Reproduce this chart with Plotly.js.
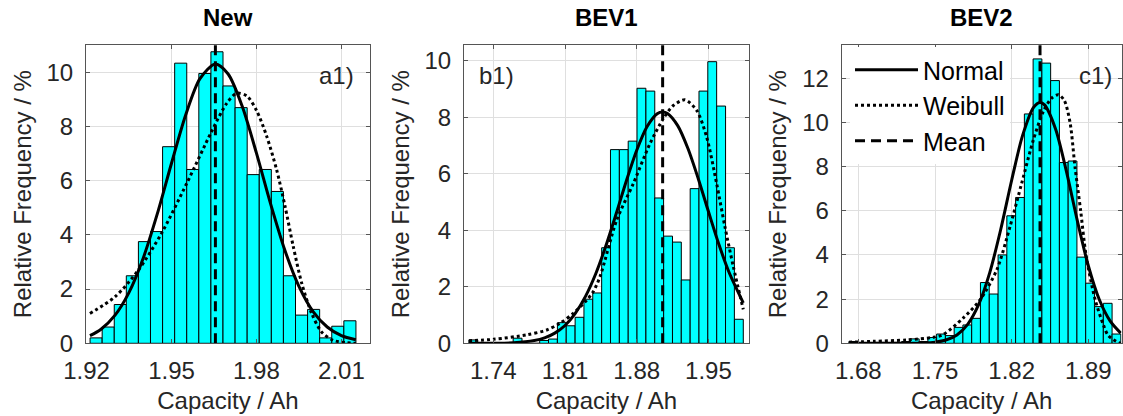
<!DOCTYPE html>
<html>
<head>
<meta charset="utf-8">
<script src="https://cdn.plot.ly/plotly-3.0.1.min.js"></script>
<style>
  html, body { margin: 0; padding: 0; background: #fff; }
  #chart { width: 1123px; height: 416px; }
</style>
</head>
<body>
<div id="chart"></div>
<script>
// ---------- data ----------
const panelTitles = ['New', 'BEV1', 'BEV2'];
const panelTags = ['a1)', 'b1)', 'c1)'];
const seriesNames = ['Normal', 'Weibull', 'Mean'];

// Panel a1: New
const binsNew = [1.92337, 1.92764, 1.93191, 1.93617, 1.94044, 1.94471, 1.94898, 1.95325, 1.95751, 1.96178, 1.96605,
                 1.97032, 1.97459, 1.97885, 1.98312, 1.98739, 1.99166, 1.99593, 2.00019, 2.00446, 2.00873, 2.01300];
const freqNew = [0.2, 0.6, 1.43, 2.49, 3.75, 4.12, 7.25, 10.33, 6.41, 9.95, 10.75,
                 9.49, 8.69, 6.22, 6.41, 5.6, 2.49, 1.04, 1.25, 0.2, 0.63, 0.83];
const binWidthNew = 0.004268;
const normXNew = [1.9212, 1.925, 1.93, 1.935, 1.94, 1.945, 1.95, 1.955, 1.96, 1.9655, 1.97, 1.975, 1.98, 1.985, 1.99, 1.995, 2.0, 2.005, 2.01, 2.0151];
const normYNew = [0.28, 0.51, 1.03, 1.88, 3.14, 4.78, 6.64, 8.42, 9.75, 10.3, 9.93, 8.73, 7.01, 5.14, 3.44, 2.10, 1.17, 0.60, 0.28, 0.13];
const weibXNew = [1.9212, 1.9301, 1.9383, 1.9465, 1.9554, 1.9641, 1.9695, 1.9730, 1.9766, 1.9801, 1.9836, 1.9871, 1.9901, 1.9930, 1.9960, 1.9995, 2.0030, 2.0071, 2.0118, 2.0151];
const weibYNew = [1.10, 1.72, 2.70, 4.06, 5.90, 7.80, 8.85, 9.22, 9.12, 8.57, 7.64, 6.41, 5.05, 3.57, 2.21, 1.10, 0.42, 0.11, 0.02, 0.0];
const meanNew = 1.9655;

// Panel b1: BEV1
const binsBEV1 = [1.7205, 1.7291, 1.7378, 1.7464, 1.7550, 1.7637, 1.7723, 1.7810, 1.7896, 1.7982, 1.8069,
                  1.8155, 1.8242, 1.8328, 1.8414, 1.8501, 1.8587, 1.8674, 1.8760, 1.8846, 1.8933, 1.9019,
                  1.9106, 1.9192, 1.9278, 1.9365, 1.9451, 1.9537, 1.9624, 1.9710, 1.9797];
const freqBEV1 = [0.12, 0, 0, 0, 0, 0.18, 0, 0, 0.1, 0.15, 0.73,
                  0.62, 0.92, 1.56, 1.78, 3.38, 6.85, 6.85, 7.15, 9.02, 8.92, 5.14,
                  3.79, 3.58, 2.24, 5.47, 8.92, 9.96, 8.39, 3.38, 0.85];
const binWidthBEV1 = 0.008638;
const normXBEV1 = [1.7162, 1.74, 1.76, 1.78, 1.79, 1.80, 1.81, 1.82, 1.83, 1.84, 1.85, 1.86, 1.87, 1.88, 1.89, 1.90, 1.9053, 1.91, 1.92, 1.93, 1.94, 1.95, 1.96, 1.97, 1.984];
const normYBEV1 = [0.0, 0.004, 0.021, 0.098, 0.19, 0.36, 0.63, 1.06, 1.66, 2.46, 3.46, 4.59, 5.76, 6.83, 7.66, 8.12, 8.18, 8.13, 7.70, 6.89, 5.83, 4.66, 3.52, 2.52, 1.43];
const weibXBEV1 = [1.7162, 1.74, 1.7726, 1.7921, 1.8051, 1.8181, 1.8312, 1.8376, 1.8441, 1.8604, 1.8767, 1.8929, 1.9059, 1.9157, 1.9271, 1.9385, 1.9483, 1.958, 1.9661, 1.9743, 1.984];
const weibYBEV1 = [0.09, 0.14, 0.3, 0.47, 0.71, 1.06, 1.53, 1.83, 2.35, 4.35, 5.65, 7.06, 7.94, 8.41, 8.61, 8.24, 7.29, 5.65, 4.12, 2.71, 1.2];
const meanBEV1 = 1.9053;

// Panel c1: BEV2
const binsBEV2 = [1.6754, 1.6834, 1.6914, 1.6994, 1.7075, 1.7155, 1.7235, 1.7315, 1.7395, 1.7475, 1.7555,
                  1.7635, 1.7715, 1.7795, 1.7875, 1.7955, 1.8036, 1.8116, 1.8196, 1.8276, 1.8356, 1.8436,
                  1.8516, 1.8596, 1.8676, 1.8756, 1.8836, 1.8916, 1.8997, 1.9077, 1.9157];
const freqBEV2 = [0.08, 0, 0, 0.04, 0, 0.04, 0.08, 0.2, 0.08, 0.26, 0.42,
                  0.35, 0.72, 0.83, 1.13, 2.75, 2.23, 4.0, 5.77, 6.6, 10.38, 12.87,
                  12.68, 11.89, 8.18, 8.25, 3.9, 2.72, 1.66, 1.81, 0.42];
const binWidthBEV2 = 0.008007;
const normXBEV2 = [1.6714, 1.70, 1.72, 1.74, 1.75, 1.76, 1.77, 1.78, 1.79, 1.80, 1.81, 1.82, 1.83, 1.84, 1.8459, 1.85, 1.86, 1.87, 1.88, 1.89, 1.90, 1.91, 1.9196];
const normYBEV2 = [0, 0, 0.001, 0.016, 0.052, 0.149, 0.38, 0.87, 1.77, 3.20, 5.15, 7.38, 9.41, 10.68, 10.9, 10.79, 9.71, 7.78, 5.54, 3.51, 1.98, 1.0, 0.46];
const weibXBEV2 = [1.6714, 1.6937, 1.7242, 1.7485, 1.7573, 1.7759, 1.7911, 1.8064, 1.8185, 1.8292, 1.8398, 1.8489, 1.8566, 1.8626, 1.8680, 1.8733, 1.8778, 1.8830, 1.8879, 1.8961, 1.9040, 1.9082, 1.9174, 1.9196];
const weibYBEV2 = [0.05, 0.09, 0.15, 0.27, 0.39, 1.15, 1.96, 3.32, 5.28, 7.25, 9.2, 10.49, 11.1, 11.25, 11.0, 10.0, 8.0, 6.0, 4.0, 2.0, 0.8, 0.35, 0.03, 0.0];
const meanBEV2 = 1.8459;

// Axis settings
const xRanges = [[1.9198, 2.0201], [1.7114, 1.9893], [1.6648, 1.9203]];
const yRanges = [[0, 11], [0, 10.55], [0, 13.5]];
const xTicks = [[1.92, 1.95, 1.98, 2.01], [1.74, 1.81, 1.88, 1.95], [1.68, 1.75, 1.82, 1.89]];
const yTicks = [[0, 2, 4, 6, 8, 10], [0, 2, 4, 6, 8, 10], [0, 2, 4, 6, 8, 10, 12]];
const xTickText = [['1.92', '1.95', '1.98', '2.01'], ['1.74', '1.81', '1.88', '1.95'], ['1.68', '1.75', '1.82', '1.89']];
const xTitle = 'Capacity / Ah';
const yTitle = 'Relative Frequency / %';

// ---------- layout geometry (pixels of the 1123x416 page) ----------
const W = 1123, H = 416;
const boxes = [[86, 370], [464, 748.7], [841.7, 1121.5]];
const boxTop = 45, boxBottom = 343.3;

const panels = [
  {bins: binsNew, freq: freqNew, bw: binWidthNew, nx: normXNew, ny: normYNew, wx: weibXNew, wy: weibYNew, mean: meanNew},
  {bins: binsBEV1, freq: freqBEV1, bw: binWidthBEV1, nx: normXBEV1, ny: normYBEV1, wx: weibXBEV1, wy: weibYBEV1, mean: meanBEV1},
  {bins: binsBEV2, freq: freqBEV2, bw: binWidthBEV2, nx: normXBEV2, ny: normYBEV2, wx: weibXBEV2, wy: weibYBEV2, mean: meanBEV2}
];

const traces = [];
const layout = {
  width: W, height: H,
  margin: {l: 0, r: 0, t: 0, b: 0},
  paper_bgcolor: '#ffffff',
  plot_bgcolor: '#ffffff',
  bargap: 0,
  showlegend: true,
  hovermode: false,
  font: {family: 'Liberation Sans, Arial, sans-serif', size: 24, color: '#262626'},
  legend: {
    x: 850 / W, y: 1 - 47 / H, xanchor: 'left', yanchor: 'top',
    bgcolor: '#ffffff', borderwidth: 0,
    font: {size: 25, color: '#000000'},
    itemwidth: 63, tracegroupgap: 0
  },
  annotations: [],
  shapes: []
};

panels.forEach((p, i) => {
  const sfx = i === 0 ? '' : String(i + 1);
  const xa = 'x' + sfx, ya = 'y' + sfx;
  traces.push({
    type: 'bar', x: p.bins, y: p.freq, width: p.bw,
    xaxis: xa, yaxis: ya, showlegend: false,
    marker: {color: '#00ffff', line: {color: '#000000', width: 1}}
  });
  traces.push({
    type: 'scatter', mode: 'lines', x: p.nx, y: p.ny, name: seriesNames[0],
    xaxis: xa, yaxis: ya, showlegend: i === 2, legendrank: 1,
    line: {color: '#000000', width: 3, shape: 'spline', smoothing: 0.8}
  });
  traces.push({
    type: 'scatter', mode: 'lines', x: p.wx, y: p.wy, name: seriesNames[1],
    xaxis: xa, yaxis: ya, showlegend: i === 2, legendrank: 2,
    line: {color: '#000000', width: 3, dash: 'dot', shape: 'spline', smoothing: 0.8}
  });
  traces.push({
    type: 'scatter', mode: 'lines', x: [p.mean, p.mean], y: [yRanges[i][0], yRanges[i][1]], name: seriesNames[2],
    xaxis: xa, yaxis: ya, showlegend: i === 2, legendrank: 3,
    line: {color: '#000000', width: 3, dash: '10px,6px'}
  });

  const axCommon = {
    showline: true, linecolor: '#555555', linewidth: 1, mirror: 'ticks',
    ticks: 'inside', ticklen: 4, tickcolor: '#555555', tickwidth: 1,
    showgrid: true, gridcolor: '#dfdfdf', gridwidth: 1,
    zeroline: false, automargin: false, fixedrange: true,
    tickfont: {size: 24, color: '#262626'}
  };
  layout['xaxis' + sfx] = Object.assign({}, axCommon, {
    domain: [boxes[i][0] / W, boxes[i][1] / W],
    range: xRanges[i], anchor: ya,
    tickmode: 'array', tickvals: xTicks[i], ticktext: xTickText[i],
    ticklabelstandoff: 6,
    title: {text: xTitle, font: {size: 24, color: '#262626'}, standoff: 9}
  });
  layout['yaxis' + sfx] = Object.assign({}, axCommon, {
    domain: [1 - boxBottom / H, 1 - boxTop / H],
    range: yRanges[i], anchor: xa,
    tickmode: 'array', tickvals: yTicks[i],
    ticklabelstandoff: 7,
    title: {text: yTitle, font: {size: 24, color: '#262626'}, standoff: 8}
  });

  layout.annotations.push({
    text: '<b>' + panelTitles[i] + '</b>', xref: 'paper', yref: 'paper',
    x: (boxes[i][0] + boxes[i][1]) / 2 / W, y: 1 - 18 / H,
    xanchor: 'center', yanchor: 'middle', showarrow: false,
    font: {size: 24, color: '#000000'}
  });
});

// panel tags
layout.annotations.push({text: panelTags[0], xref: 'paper', yref: 'paper', x: 356 / W, y: 1 - 75 / H,
  xanchor: 'right', yanchor: 'middle', showarrow: false, font: {size: 24, color: '#262626'}});
layout.annotations.push({text: panelTags[1], xref: 'paper', yref: 'paper', x: 477 / W, y: 1 - 75 / H,
  xanchor: 'left', yanchor: 'middle', showarrow: false, font: {size: 24, color: '#262626'}});
layout.annotations.push({text: panelTags[2], xref: 'paper', yref: 'paper', x: 1114 / W, y: 1 - 75 / H,
  xanchor: 'right', yanchor: 'middle', showarrow: false, font: {size: 24, color: '#262626'}});

Plotly.newPlot('chart', traces, layout, {displayModeBar: false, staticPlot: true});
</script>
</body>
</html>
